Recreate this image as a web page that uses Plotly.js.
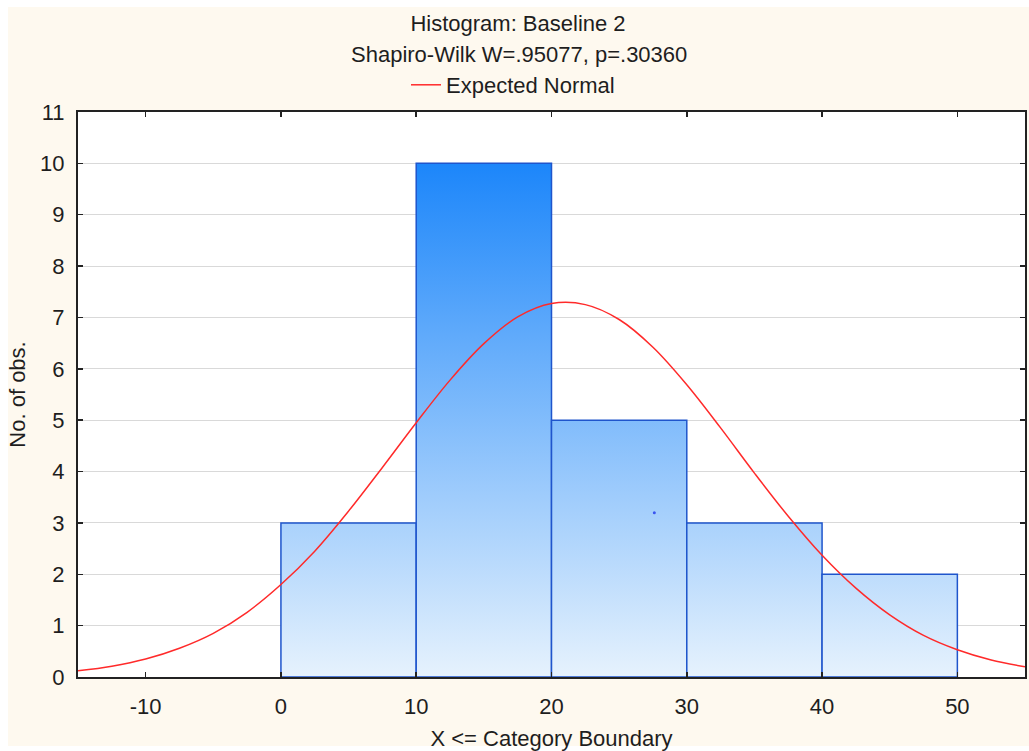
<!DOCTYPE html>
<html>
<head>
<meta charset="utf-8">
<script src="https://cdn.plot.ly/plotly-3.0.1.min.js"></script>
<style>
  html, body { margin: 0; padding: 0; background: #ffffff; }
  #chart { width: 1029px; height: 751px; }
</style>
</head>
<body>
<div id="chart"></div>
<script>
// ---- data ----
const binLower = [0, 10, 20, 30, 40];          // category lower boundaries
const binUpper = [10, 20, 30, 40, 50];         // category upper boundaries (X <= boundary)
const counts   = [3, 10, 5, 3, 2];             // No. of obs.

const normalX = [-15, -12.5, -10, -7.5, -5, -2.5, 0, 2.5, 5, 7.5, 10, 12.5, 15, 17.5, 20,
                 22.5, 25, 27.5, 30, 32.5, 35, 37.5, 40, 42.5, 45, 47.5, 50, 52.5, 55];
const normalY = [0.12, 0.21, 0.35, 0.56, 0.85, 1.26, 1.80, 2.45, 3.23, 4.08, 4.95, 5.78, 6.49, 7.01, 7.27,
                 7.25, 6.96, 6.42, 5.69, 4.85, 3.97, 3.13, 2.37, 1.73, 1.21, 0.81, 0.53, 0.33, 0.20];

const strayX = [27.6];
const strayY = [3.2];

const xTicks = [-10, 0, 10, 20, 30, 40, 50];
const yTicks = [0, 1, 2, 3, 4, 5, 6, 7, 8, 9, 10, 11];

const titleLine1 = 'Histogram: Baseline 2';
const titleLine2 = 'Shapiro-Wilk W=.95077, p=.30360';

// ---- build ----
const centers = binLower.map((lo, i) => (lo + binUpper[i]) / 2);
const widths  = binLower.map((lo, i) => binUpper[i] - lo);

const FONT = 'Liberation Sans, Arial, sans-serif';
const TXT = '#1e1e1e';
const FS = 22;

const traces = [
  {
    type: 'bar',
    x: centers,
    y: counts,
    width: widths,
    marker: { color: '#7fbbf8', line: { color: '#1f55cc', width: 1.5 } },
    showlegend: false,
    hoverinfo: 'skip'
  },
  {
    type: 'scatter',
    mode: 'lines',
    x: normalX,
    y: normalY,
    name: 'Expected Normal',
    line: { color: '#ff2a2a', width: 1.5, shape: 'spline', smoothing: 1 },
    hoverinfo: 'skip'
  },
  {
    type: 'scatter',
    mode: 'markers',
    x: strayX,
    y: strayY,
    marker: { color: '#3a55f0', size: 3 },
    showlegend: false,
    hoverinfo: 'skip'
  }
];

// plot frame in pixels: left 78, right 1025, top 112, bottom 677
const L = 78, R = 1029 - 1025, T = 112, B = 751 - 677;
const PW = 1029 - L - R, PH = 751 - T - B;
const px2x = p => (p - L) / PW;
const py2y = p => (751 - B - p) / PH;

const layout = {
  width: 1029,
  height: 751,
  margin: { l: L, r: R, t: T, b: B },
  paper_bgcolor: '#ffffff',
  plot_bgcolor: '#ffffff',
  font: { family: FONT, size: FS, color: TXT },
  title: {
    text: titleLine1,
    font: { family: FONT, size: FS, color: TXT },
    x: 518 / 1029, xanchor: 'center',
    y: 1 - 23 / 751, yanchor: 'middle',
    xref: 'container', yref: 'container'
  },
  annotations: [
    {
      text: titleLine2,
      xref: 'paper', yref: 'paper',
      x: px2x(519), y: py2y(55),
      xanchor: 'center', yanchor: 'middle',
      showarrow: false,
      font: { family: FONT, size: FS, color: TXT }
    }
  ],
  showlegend: true,
  legend: {
    orientation: 'h',
    xref: 'container', yref: 'container',
    x: 406 / 1029, xanchor: 'left',
    y: 1 - 85 / 751, yanchor: 'middle',
    bgcolor: 'rgba(0,0,0,0)',
    font: { family: FONT, size: FS, color: TXT }
  },
  xaxis: {
    range: [-15, 55],
    tickvals: xTicks,
    ticktext: xTicks.map(String),
    ticks: 'inside',
    ticklen: 5,
    tickwidth: 1.5,
    tickcolor: '#222',
    showline: true,
    linecolor: '#222',
    linewidth: 2,
    mirror: 'ticks',
    showgrid: false,
    zeroline: false,
    ticklabelstandoff: 9,
    tickfont: { family: FONT, size: FS, color: TXT },
    title: { text: 'X <= Category Boundary', standoff: 12, font: { family: FONT, size: FS, color: TXT } }
  },
  yaxis: {
    range: [0, 11],
    tickvals: yTicks,
    ticktext: yTicks.map(String),
    ticks: 'inside',
    ticklen: 5,
    tickwidth: 1.5,
    tickcolor: '#222',
    showline: true,
    linecolor: '#222',
    linewidth: 2,
    mirror: 'ticks',
    showgrid: true,
    gridcolor: '#d9d9d9',
    gridwidth: 1,
    zeroline: false,
    ticklabelstandoff: 7,
    tickfont: { family: FONT, size: FS, color: TXT },
    title: { text: 'No. of obs.', standoff: 8, font: { family: FONT, size: FS, color: TXT } }
  },
  shapes: [
    {
      type: 'rect', layer: 'below', xref: 'paper', yref: 'paper',
      x0: px2x(8), x1: px2x(1029), y0: py2y(746), y1: py2y(7),
      fillcolor: '#fef9ef', line: { width: 0 }
    },
    {
      type: 'rect', layer: 'below', xref: 'paper', yref: 'paper',
      x0: 0, x1: 1, y0: 0, y1: 1,
      fillcolor: '#ffffff', line: { width: 0 }
    }
  ],
  bargap: 0
};

const gd = document.getElementById('chart');
Plotly.newPlot(gd, traces, layout, { staticPlot: true, displayModeBar: false }).then(() => {
  // vertical gradient fill for the bars, tied to the y scale (dark at 10, light at 0)
  const ya = gd._fullLayout.yaxis;
  const svg = gd.querySelector('svg.main-svg');
  let defs = svg.querySelector('defs');
  if (!defs) { defs = document.createElementNS('http://www.w3.org/2000/svg', 'defs'); svg.insertBefore(defs, svg.firstChild); }
  const NS = 'http://www.w3.org/2000/svg';
  const grad = document.createElementNS(NS, 'linearGradient');
  grad.setAttribute('id', 'barGrad');
  grad.setAttribute('gradientUnits', 'userSpaceOnUse');
  grad.setAttribute('x1', '0'); grad.setAttribute('x2', '0');
  grad.setAttribute('y1', String(ya.l2p(10)));
  grad.setAttribute('y2', String(ya.l2p(0)));
  const s1 = document.createElementNS(NS, 'stop');
  s1.setAttribute('offset', '0'); s1.setAttribute('stop-color', 'rgb(28,134,250)');
  const s2 = document.createElementNS(NS, 'stop');
  s2.setAttribute('offset', '1'); s2.setAttribute('stop-color', 'rgb(230,242,253)');
  grad.appendChild(s1); grad.appendChild(s2);
  defs.appendChild(grad);
  gd.querySelectorAll('.barlayer .trace.bars .point path').forEach(p => {
    p.style.fill = 'url(#barGrad)';
  });
});
</script>
</body>
</html>
